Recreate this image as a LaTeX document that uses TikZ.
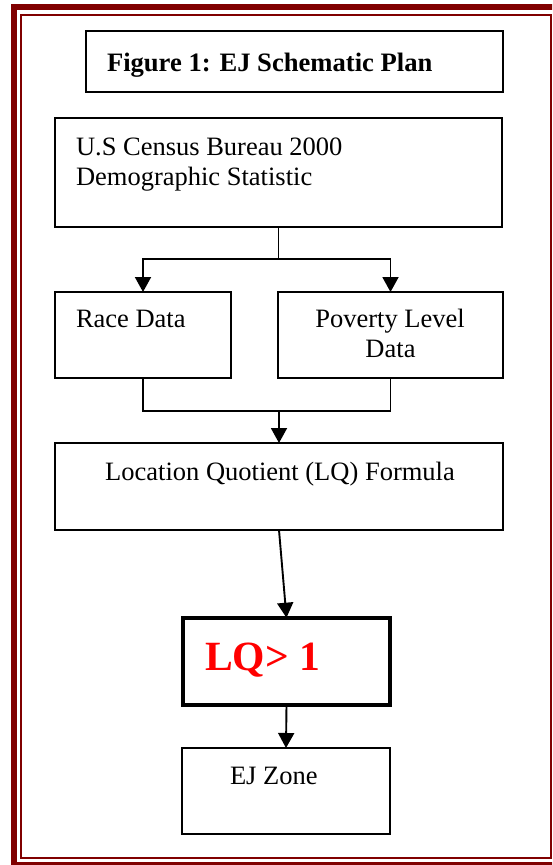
\documentclass[tikz,border=0pt]{standalone}
\usepackage{fontspec}
\setmainfont{Liberation Serif}
\usetikzlibrary{arrows.meta}
\definecolor{frame}{RGB}{128,0,0}
\definecolor{lqred}{RGB}{255,0,0}
\tikzset{
  box/.style={draw, line width=1.5pt, rectangle, inner sep=0pt, outer sep=0pt},
  thickbox/.style={draw, line width=4pt, rectangle, inner sep=0pt, outer sep=0pt},
  txt/.style={inner sep=0pt, outer sep=0pt, font=\fontsize{26.5}{30.5}\selectfont},
  conn/.style={line width=1.9pt},
  arr/.style={line width=1.9pt, -{Triangle[width=16pt,length=15pt]}},
}
\begin{document}
\begin{tikzpicture}[x=1pt,y=-1pt]
\useasboundingbox (0,0) rectangle (552,865);
\clip (0,0) rectangle (552,865);
\fill[white] (0,0) rectangle (552,865);
% frame
\draw[frame, line width=6pt] (14,7) rectangle (557.5,865);
\draw[frame, line width=2pt] (21.3,14.5) rectangle (550.5,858);
% boxes
\node[box, minimum width=417pt, minimum height=61pt] (title) at (294.5,61.5) {};
\node[box, minimum width=447pt, minimum height=109pt] (census) at (278.5,172.5) {};
\node[box, minimum width=176pt, minimum height=86pt] (race) at (143,335) {};
\node[box, minimum width=225pt, minimum height=86pt] (poverty) at (390.5,335) {};
\node[box, minimum width=448pt, minimum height=87pt] (loc) at (279,486.5) {};
\node[thickbox, minimum width=207pt, minimum height=87.3pt] (lq) at (286.5,661.35) {};
\node[box, minimum width=208pt, minimum height=86pt] (ej) at (286,791) {};
% texts
\node[txt, anchor=base west, font=\fontsize{26.6}{30.5}\selectfont\bfseries] (titletxt) at (107,71.7) {Figure 1: EJ Schematic Plan};
\node[txt, anchor=base west] (censustxta) at (76,155) {U.S Census Bureau 2000};
\node[txt, anchor=base west] (censustxtb) at (76,185.7) {Demographic Statistic};
\node[txt, anchor=base west] (racetxt) at (76,327) {Race Data};
\node[txt, anchor=base] (povtxta) at (390,327) {Poverty Level};
\node[txt, anchor=base] (povtxtb) at (390.5,357) {Data};
\node[txt, anchor=base] (loctxt) at (280,480) {Location Quotient (LQ) Formula};
\node[txt, anchor=base west, text=lqred, font=\fontsize{41.6}{48}\selectfont\bfseries] (lqtxt) at (205,670) {LQ> 1};
\node[txt, anchor=base west] (ejtxt) at (230,784) {EJ Zone};
% connectors
\draw[conn] (census.south) -- ++(0,32) coordinate (split);
\draw[arr] (split) -| (race.north);
\draw[arr] (split) -| (poverty.north);
\coordinate (merge) at (loc.north |- 0,411);
\draw[conn] (race.south) |- (merge) -| (poverty.south);
\draw[arr] (merge) -- (loc.north);
\draw[arr] (loc.south) -- (lq.north);
\draw[arr] (lq.south) -- (ej.north);
\end{tikzpicture}
\end{document}
